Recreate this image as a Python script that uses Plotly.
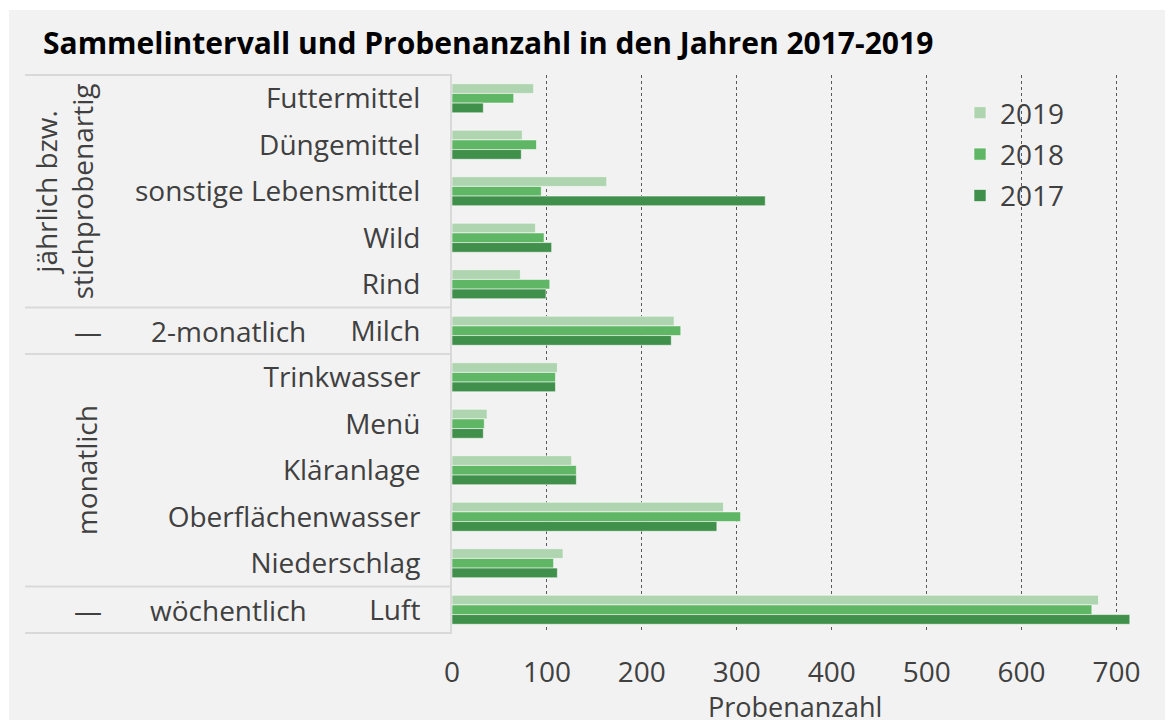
import plotly.graph_objects as go

# ---------------- data ----------------
categories = ["Futtermittel", "Düngemittel", "sonstige Lebensmittel", "Wild", "Rind",
              "Milch", "Trinkwasser", "Menü", "Kläranlage", "Oberflächenwasser",
              "Niederschlag", "Luft"]
years = ["2019", "2018", "2017"]
v2019 = [86, 74, 163, 88, 72, 234, 111, 37, 126, 286, 117, 681]
v2018 = [65, 89, 94, 97, 103, 241, 109, 34, 131, 304, 107, 674]
v2017 = [33, 73, 330, 105, 99, 231, 109, 33, 131, 279, 111, 714]
x_ticks = [0, 100, 200, 300, 400, 500, 600, 700]
title_text = "Sammelintervall und Probenanzahl in den Jahren 2017-2019"
x_title = "Probenanzahl"
# interval groups: label, first category index, last category index
group_labels = ["jährlich bzw.<br>stichprobenartig", "2-monatlich", "monatlich", "wöchentlich"]
group_first = [0, 5, 6, 11]
group_last = [4, 5, 10, 11]

colors = ["#AFD4B0", "#5FB665", "#408F4A"]
FONT = "Open Sans"
TXT = "#404040"

OFF = 8  # browser body margin
W, H = 1173 - OFF, 720 - OFF
L, R, T, B = 444, 9, 67, 87
PW, PH = W - L - R, H - T - B


def px_x(px):  # px in reference-window pixels
    return (px - OFF - L) / PW


def px_y(py):
    return (H - B - (py - OFF)) / PH


fig = go.Figure()
for name, vals, col in zip(years, [v2019, v2018, v2017], colors):
    fig.add_trace(go.Bar(
        y=categories, x=vals, name=name, orientation="h", legendgroup=name,
        marker=dict(color=col, line=dict(color="rgba(255,255,255,0.55)", width=1)),
    ))

n = len(categories)
shapes = []
# thin white frame strips (rest of frame comes from page margin)
shapes.append(dict(type="rect", xref="paper", yref="paper", x0=px_x(OFF), x1=px_x(OFF + 1),
                   y0=px_y(OFF + H), y1=px_y(OFF), fillcolor="white", line=dict(width=0), layer="below"))
shapes.append(dict(type="rect", xref="paper", yref="paper", x0=px_x(OFF), x1=px_x(OFF + W),
                   y0=px_y(OFF + 2), y1=px_y(OFF), fillcolor="white", line=dict(width=0), layer="below"))
# separators between interval groups
bounds = sorted(set([0] + [g + 1 for g in group_last]))
for b in bounds:
    yy = 1 - b / n
    shapes.append(dict(type="line", xref="paper", yref="paper", x0=px_x(25), x1=0,
                       y0=yy, y1=yy, line=dict(color="#D9D9D9", width=2)))

annotations = []
for lab, f, l in zip(group_labels, group_first, group_last):
    yc = 1 - ((f + l + 1) / 2) / n
    if l > f:
        xc = px_x(64) if "<br>" in lab else px_x(86)
        annotations.append(dict(text=lab, xref="paper", yref="paper", x=xc, y=yc,
                                xanchor="center", yanchor="middle", textangle=-90,
                                showarrow=False, font=dict(family=FONT, size=28, color=TXT)))
    else:
        annotations.append(dict(text="—", xref="paper", yref="paper", x=px_x(88), y=yc,
                                xanchor="center", yanchor="middle", showarrow=False,
                                font=dict(family=FONT, size=28, color=TXT)))
        annotations.append(dict(text=lab, xref="paper", yref="paper", x=px_x(228), y=yc,
                                xanchor="center", yanchor="middle", showarrow=False,
                                font=dict(family=FONT, size=28, color=TXT)))
annotations.append(dict(text=x_title, xref="paper", yref="paper", x=px_x(795), y=px_y(706),
                        xanchor="center", yanchor="middle", showarrow=False, borderpad=0,
                        font=dict(family=FONT, size=27, color=TXT)))

fig.update_layout(
    width=W, height=H,
    margin=dict(l=L, r=R, t=T, b=B, pad=0),
    paper_bgcolor="#F2F2F2", plot_bgcolor="#F2F2F2",
    barmode="group", bargap=0.375, bargroupgap=0,
    title=dict(text="<b>" + title_text + "</b>", x=(43 - OFF) / W, xanchor="left",
               y=1 - (43 - OFF) / H, yanchor="middle",
               font=dict(family=FONT, size=30, color="#000000")),
    legend=dict(x=px_x(960), y=px_y(88), xanchor="left", yanchor="top",
                bgcolor="rgba(0,0,0,0)", font=dict(family=FONT, size=28, color=TXT),
                tracegroupgap=2),
    xaxis=dict(range=[0, 750], tickvals=x_ticks, showgrid=True, gridcolor="#595959",
               griddash="dot", gridwidth=1, zeroline=False, showline=False,
               ticks="outside", ticklen=14, tickcolor="rgba(0,0,0,0)",
               tickfont=dict(family=FONT, size=28, color=TXT)),
    yaxis=dict(type="category", categoryorder="array", categoryarray=categories,
               autorange="reversed", showgrid=False, zeroline=False,
               showline=True, linecolor="#D9D9D9", linewidth=2,
               ticks="outside", ticklen=24, tickcolor="rgba(0,0,0,0)",
               tickfont=dict(family=FONT, size=28, color=TXT)),
    shapes=shapes, annotations=annotations,
    font=dict(family=FONT, color=TXT),
)

fig.write_html("out.html")
